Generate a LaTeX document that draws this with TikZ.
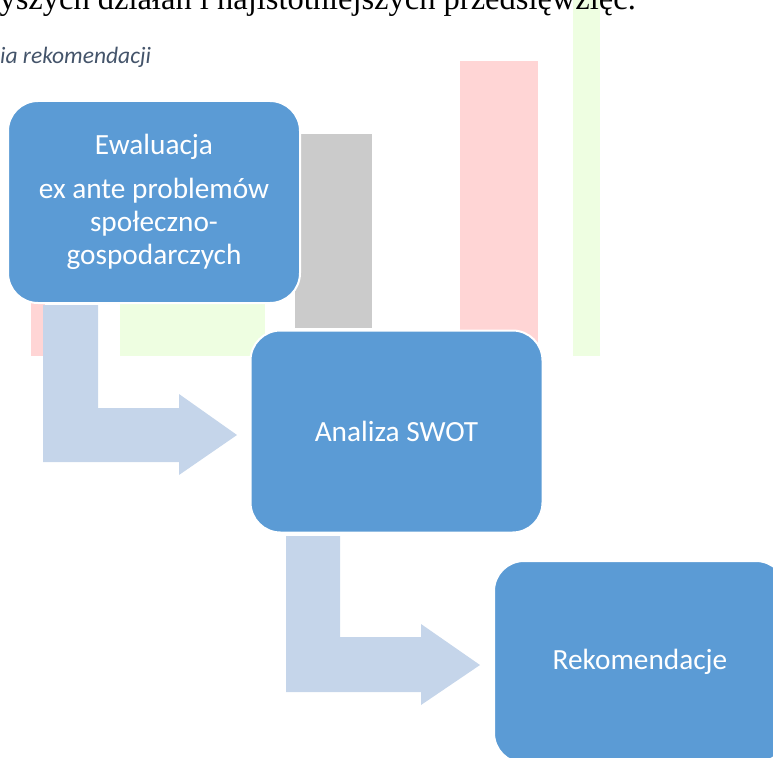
\documentclass[tikz,border=0pt]{standalone}
\usepackage{fontspec}
\setmainfont{Carlito}
\newfontfamily\serifpl{Liberation Serif}
\definecolor{boxblue}{HTML}{5B9BD5}
\definecolor{arrowblue}{HTML}{C5D5EA}
\definecolor{pinkbar}{HTML}{FFD5D5}
\definecolor{greenbar}{HTML}{EEFEE1}
\definecolor{greybar}{HTML}{CBCBCB}
\definecolor{captiongray}{HTML}{44546A}
\begin{document}
\begin{tikzpicture}[x=1pt,y=-1pt,
  stepbox/.style={rounded corners=30pt, fill=boxblue, draw=white, line width=2pt,
    minimum width=292pt, minimum height=202pt, text=white, inner sep=0pt,
    font=\fontsize{29.3}{33}\selectfont, align=center},
  bentarrow/.style={fill=arrowblue, draw=none},
  bgbar/.style={draw=none}]
\useasboundingbox (0,0) rectangle (773,757);
% background bars
\fill[pinkbar] (460,61) rectangle (538,350);
\fill[greenbar] (573,-2) rectangle (600,356);
\fill[greybar] (295,134) rectangle (372,328);
\fill[pinkbar] (31,300) rectangle (45,356);
\fill[greenbar] (120,290) rectangle (265,356);
% texts at top
\node[anchor=base east, inner sep=0pt, font=\serifpl\fontsize{32.5}{38}\selectfont] (toptext) at (636,10) {yszych działań i najistotniejszych przedsięwzięć.};
\node[anchor=base west, inner sep=0pt, font=\itshape\fontsize{23.5}{27}\selectfont, text=captiongray] (caption) at (0,64) {ia rekomendacji};
% boxes
\node[stepbox] (ewal) at (154,202) {Ewaluacja\\[11pt]ex ante problemów\\społeczno-\\gospodarczych};
\node[stepbox] (swot) at (396.5,431.5) {Analiza SWOT};
\node[stepbox] (rek) at (640,662) {Rekomendacje};
% bent arrows
\fill[bentarrow] (43,305) -- (98,305) -- (98,408) -- (179,408) -- (179,394) -- (237,435) -- (179,475) -- (179,462) -- (43,462) -- cycle;
\fill[bentarrow] (286,536) -- (340,536) -- (340,637) -- (421,637) -- (421,624) -- (480,665) -- (421,705) -- (421,692) -- (286,692) -- cycle;
\end{tikzpicture}
\end{document}
